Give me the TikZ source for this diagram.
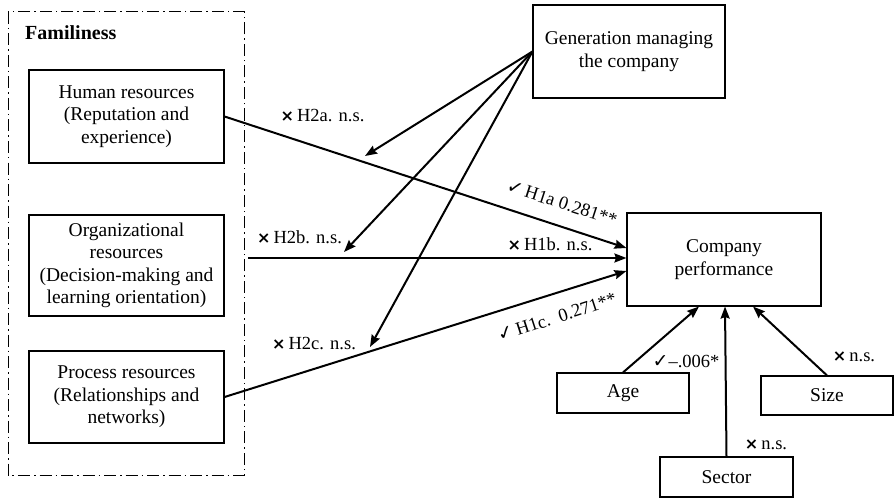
\documentclass[tikz,border=0pt]{standalone}
\usepackage{fontspec}
\setmainfont{Liberation Serif}
\newfontfamily\marksfont{DejaVu Sans}
\usetikzlibrary{arrows.meta}
\newcommand{\yes}{{\marksfont\fontsize{19}{19}\selectfont ✓}}
\newcommand{\no}{{\marksfont\bfseries\fontsize{16}{16}\selectfont ×}}
\tikzset{
  box/.style={draw, line width=1.1pt, align=center, inner sep=0pt,
    font=\fontsize{19.5}{22.5}\selectfont},
  arr/.style={line width=2pt, -{Stealth[length=12pt,width=9pt,inset=1.5pt]}},
  lbl/.style={font=\fontsize{18.5}{20}\selectfont, inner sep=0pt}
}

\begin{document}
\begin{tikzpicture}[x=1pt,y=-1pt]
\useasboundingbox (0,0) rectangle (894,500);
% familiness frame
\draw[line width=1pt, dash pattern=on 12pt off 4pt on 1.5pt off 4pt] (8,12) rectangle (244,475);
\node[anchor=west, font=\bfseries\fontsize{20}{22}\selectfont, inner sep=0pt] (fam) at (25,33) {Familiness};
\node[box, minimum width=195pt, minimum height=93pt] (hum) at (126.5,116.5) {Human resources\\(Reputation and\\experience)};
\node[box, minimum width=195pt, minimum height=101pt] (org) at (126.5,265.5) {Organizational\\resources\\(Decision-making and\\learning orientation)};
\node[box, minimum width=195pt, minimum height=92pt] (proc) at (126.5,397) {Process resources\\(Relationships and\\networks)};
\node[box, minimum width=192pt, minimum height=93pt] (gen) at (629,51.5) {Generation managing\\the company};
\node[box, minimum width=194pt, minimum height=93pt] (comp) at (724,259.5) {Company\\performance};
\node[box, minimum width=132pt, minimum height=40pt] (age) at (623,393) {Age};
\node[box, minimum width=132pt, minimum height=39pt] (size) at (827,395.5) {Size};
\node[box, minimum width=133pt, minimum height=40pt] (sector) at (726.5,477) {Sector};
% main effects
\coordinate (b1) at (248,258);
\draw[arr] (hum.east) -- ([yshift=11.5pt]comp.west);
\draw[arr] (b1) -- ([yshift=1.5pt]comp.west);
\draw[arr] (proc.east) -- ([yshift=-11.5pt]comp.west);
% moderation by generation
\coordinate (m1) at (365,156);
\coordinate (m2) at (344,252);
\coordinate (m3) at (370,347);
\foreach \m in {m1,m2,m3}{
\draw[arr] (gen.west) -- (\m);
}
% controls
\draw[arr] (age.north) -- ([xshift=-25pt]comp.south);
\draw[arr] (sector.north) -- ([xshift=1pt]comp.south);
\draw[arr] (size.north) -- ([xshift=29pt]comp.south);
% labels
\node[lbl] (l2a) at (322.5,116) {\no\,H2a. n.s.};
\node[lbl] (l2b) at (299.5,237) {\no\,H2b. n.s.};
\node[lbl] (l2c) at (314,344) {\no\,H2c. n.s.};
\node[lbl, rotate=-18] (l1a) at (562,203) {\yes\,H1a 0.281**};
\node[lbl] (l1b) at (550,244) {\no\,H1b. n.s.};
\node[lbl, rotate=18] (l1c) at (557,317) {\yes\,H1c.\ \ 0.271**};
\node[lbl] (lage) at (686,361) {\yes–.006*};
\node[lbl] (lsize) at (854,357) {\no\,n.s.};
\node[lbl] (lsec) at (766,445) {\no\,n.s.};
\end{tikzpicture}
\end{document}
